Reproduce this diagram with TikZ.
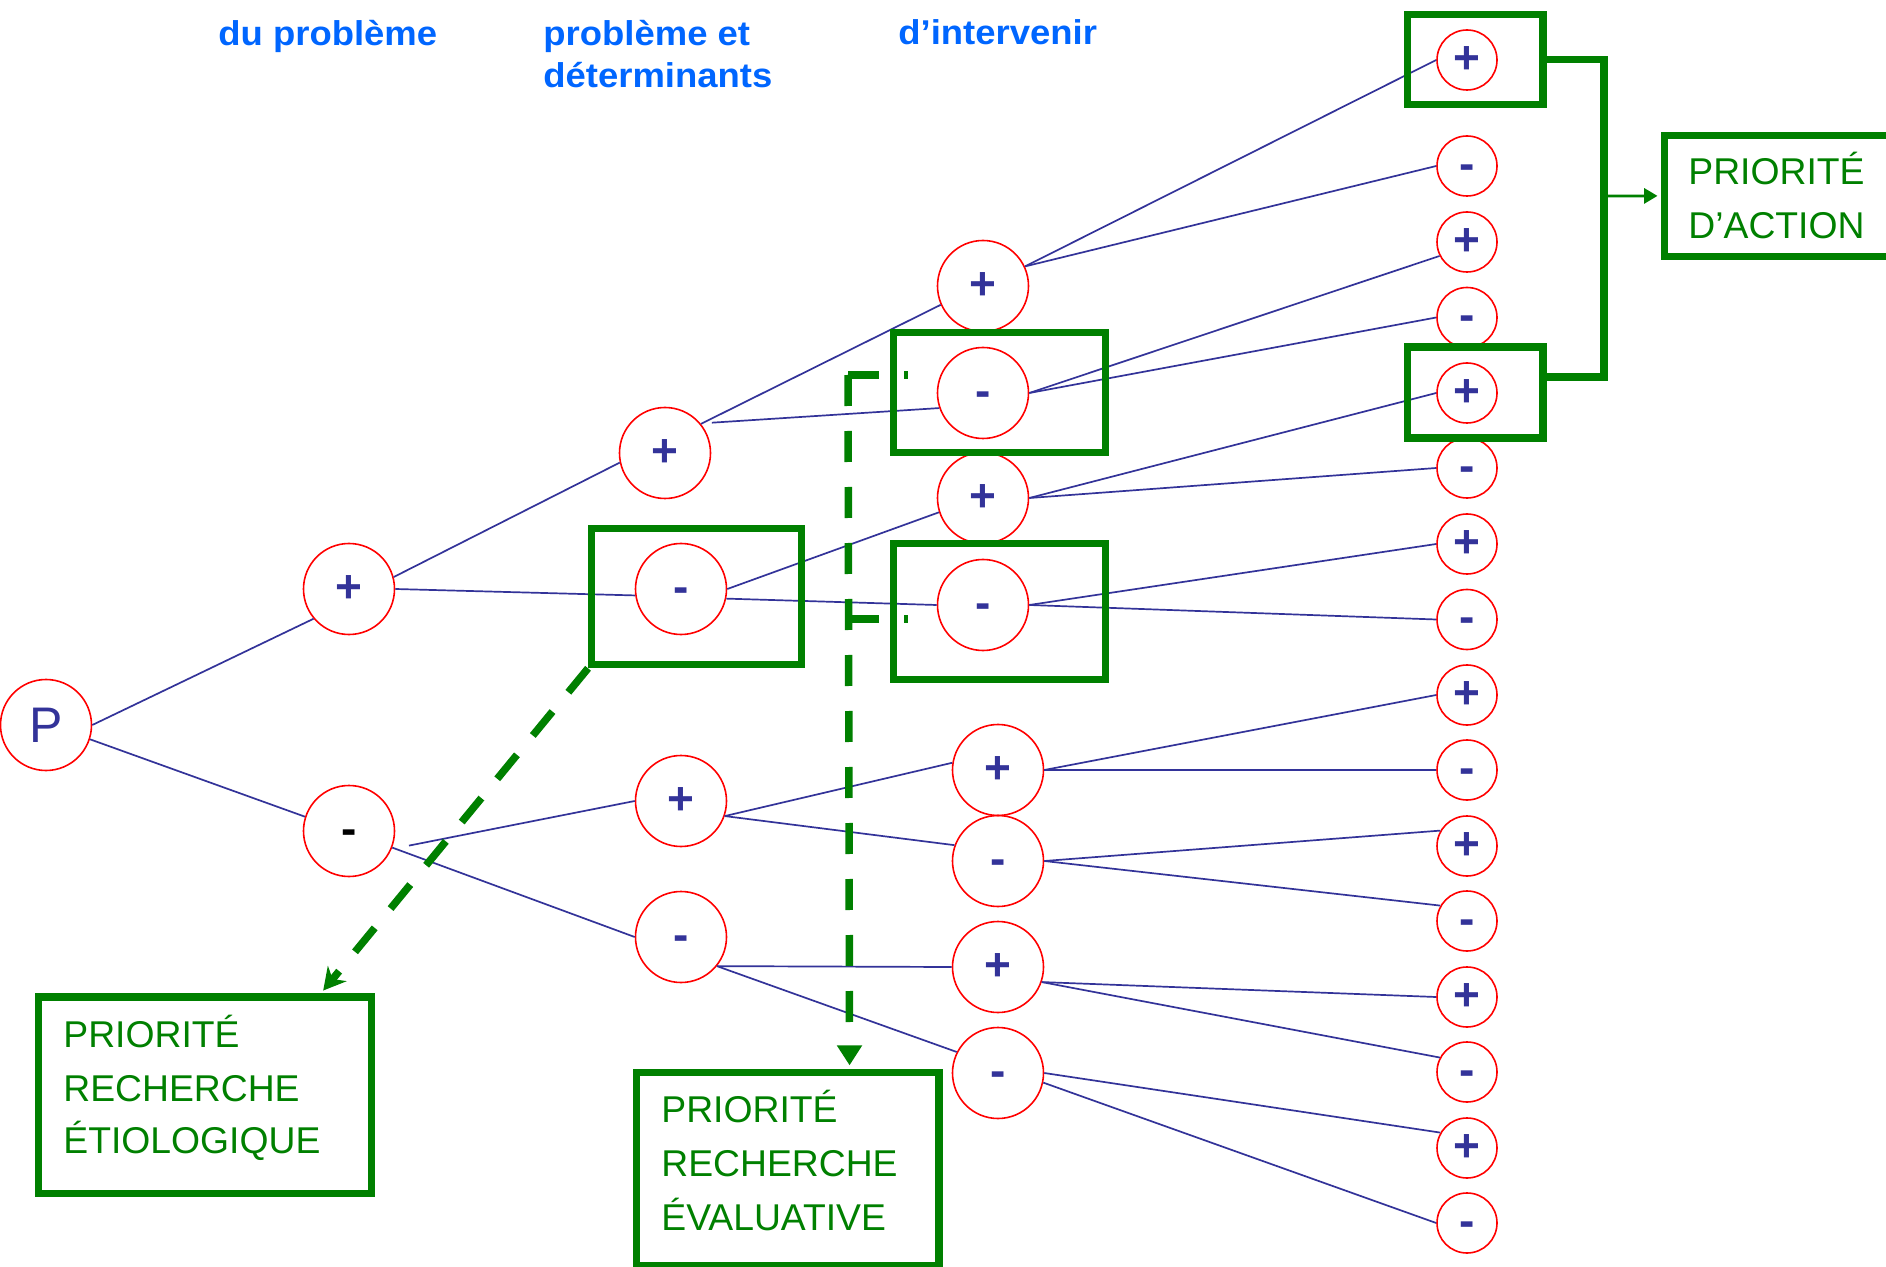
\documentclass[tikz,border=0pt]{standalone}
\usepackage{fontspec}
\setmainfont{Liberation Sans}
\newfontfamily\hdrfont[FakeStretch=1.06]{Liberation Sans}
\usetikzlibrary{arrows.meta,calc}
\definecolor{linkblue}{RGB}{51,51,153}
\definecolor{prigreen}{RGB}{0,128,0}
\definecolor{hdrblue}{RGB}{0,102,255}
\newcommand\minussign{\vphantom{+}-}
\begin{document}
\begin{tikzpicture}[x=0.5pt,y=-0.5pt,
  state/.style={circle,draw=red,line width=0.8pt,inner sep=0pt,text=linkblue,
    font=\fontsize{23}{23}\selectfont\bfseries},
  big/.style={state,minimum size=45.5pt},
  small/.style={state,minimum size=30pt},
  link/.style={draw=linkblue,line width=0.85pt},
  gframe/.style={rectangle,draw=prigreen,line width=3.65pt,inner sep=0pt},
  gbar/.style={draw=prigreen,line width=3.65pt},
  gdash/.style={draw=prigreen,line width=3.75pt,dash pattern=on 15.5pt off 12.5pt},
  lbl/.style={anchor=base west,inner sep=0pt,text=prigreen,
    font=\fontsize{18.65}{22}\selectfont},
  hdr/.style={anchor=base west,inner sep=0pt,text=hdrblue,
    font=\hdrfont\bfseries\fontsize{17.2}{20}\selectfont},
]
\useasboundingbox (0,0) rectangle (1886,1267);
\fill[white] (0,0) rectangle (1886,1267);
\clip (0,0) rectangle (1886,1267);

% column headings
\node[hdr] (h1) at (218,46) {du problème};
\node[hdr] (h2a) at (543,46) {problème et};
\node[hdr] (h2b) at (543,88) {déterminants};
\node[hdr] (h3) at (898,45) {d’intervenir};

% decision tree
\node[big,font=\fontsize{25}{25}\selectfont] (P) at (46,725) {P};
\node[big] (A) at (349,589) {+};
\node[big,text=black] (B) at (349,831) {\minussign};
\node[big] (C) at (665,453) {+};
\node[big] (D) at (681,589) {\minussign};
\node[big] (E) at (681,801) {+};
\node[big] (F) at (681,937) {\minussign};
\node[big] (G1) at (983,286) {+};
\node[big] (G2) at (983,393) {\minussign};
\node[big] (G3) at (983,498) {+};
\node[big] (G4) at (983,605) {\minussign};
\node[big] (H1) at (998,770) {+};
\node[big] (H2) at (998,861) {\minussign};
\node[big] (H3) at (998,967) {+};
\node[big] (H4) at (998,1073) {\minussign};

\node[small] (l1) at (1467,60) {+};
\node[small] (l2) at (1467,166) {\minussign};
\node[small] (l3) at (1467,242) {+};
\node[small] (l4) at (1467,317.5) {\minussign};
\node[small] (l5) at (1467,393) {+};
\node[small] (l6) at (1467,468) {\minussign};
\node[small] (l7) at (1467,544) {+};
\node[small] (l8) at (1467,619.5) {\minussign};
\node[small] (l9) at (1467,695) {+};
\node[small] (l10) at (1467,770) {\minussign};
\node[small] (l11) at (1467,846) {+};
\node[small] (l12) at (1467,921) {\minussign};
\node[small] (l13) at (1467,997) {+};
\node[small] (l14) at (1467,1072) {\minussign};
\node[small] (l15) at (1467,1148) {+};
\node[small] (l16) at (1467,1223) {\minussign};

% branches
\draw[link] (P.0) -- (A.220);
\draw[link] (P.342) -- (B.162);
\draw[link] (A.15) -- (C.192);
\draw[link] (A.0) -- (D.188);
\draw[link] ($(B)+(60,14.6)$) -- (E.180);
\draw[link] (B.339) -- (F.180);
\draw[link] (C.39) -- (G1.204);
\draw[link] ($(C)+(46.8,-30.3)$) -- (G2.199);
\draw[link] (D.0) -- (G3.198);
\draw[link] (D.348) -- (G4.180);
\draw[link] (E.341) -- (H1.171);
\draw[link] (E.341) -- (H2.160);
\draw[link] (F.321) -- (H3.180);
\draw[link] (F.321) -- (H4.153);
\draw[link] (G1.25) -- (l1.180);
\draw[link] (G1.25) -- (l2.180);
\draw[link] (G2.0) -- (l3.207);
\draw[link] (G2.0) -- (l4.180);
\draw[link] (G3.0) -- (l5.180);
\draw[link] (G3.0) -- (l6.180);
\draw[link] (G4.0) -- (l7.180);
\draw[link] (G4.0) -- (l8.180);
\draw[link] (H1.0) -- (l9.180);
\draw[link] (H1.0) -- (l10.180);
\draw[link] (H2.0) -- (l11.150);
\draw[link] (H2.0) -- (l12.150);
\draw[link] (H3.341) -- (l13.180);
\draw[link] (H3.341) -- (l14.152);
\draw[link] (H4.0) -- (l15.150);
\draw[link] (H4.348) -- (l16.180);

% highlighted branches
\node[gframe,minimum width=104.8pt,minimum height=67.95pt] (boxD) at (696.5,596.7) {};
\node[gframe,minimum width=105.95pt,minimum height=59.8pt] (boxG2) at (999.3,392.5) {};
\node[gframe,minimum width=105.95pt,minimum height=67.95pt] (boxG4) at (999.3,611.7) {};
\node[gframe,minimum width=67.65pt,minimum height=45.1pt] (boxL1) at (1475.4,59.5) {};
\node[gframe,minimum width=67.65pt,minimum height=45.5pt] (boxL5) at (1475.4,392.5) {};

% priority boxes
\node[gframe,minimum width=127.65pt,minimum height=60.45pt] (act) at (1792.4,195.9) {};
\node[gframe,minimum width=166.5pt,minimum height=98.3pt] (etio) at (205.2,1095.3) {};
\node[gframe,minimum width=151.3pt,minimum height=96.65pt] (eval) at (787.6,1169.3) {};

\node[lbl] (act1) at (1688,185) {PRIORITÉ};
\node[lbl] (act2) at (1688,238.5) {D’ACTION};
\node[lbl] (et1) at (63,1047.3) {PRIORITÉ};
\node[lbl] (et2) at (63,1101) {RECHERCHE};
\node[lbl] (et3) at (63,1153.3) {ÉTIOLOGIQUE};
\node[lbl] (ev1) at (661,1122.3) {PRIORITÉ};
\node[lbl] (ev2) at (661,1176) {RECHERCHE};
\node[lbl] (ev3) at (661,1230) {ÉVALUATIVE};

% bracket to the action priority
\coordinate (brk) at (1604,196);
\draw[gbar] (boxL1.east) -| (brk) |- ($(boxL5.east)+(0,-15.5)$);
\draw[draw=prigreen,line width=1.35pt,-{Triangle[length=6.65pt,width=7.5pt]},shorten >=1.8pt]
  (brk) -- (act.west);

% dashed links to the research priorities
\draw[gdash,-{Stealth[length=11pt,width=12pt]},shorten >=1.8pt]
  (boxD.south west) -- ($(etio.north west)!0.84!(etio.north east)$);
\coordinate (evs) at (848,375);
\coordinate (evm) at (848,619);
\draw[gdash] (evs) -- ++(60,0);
\draw[gdash] (evm) -- ++(60,0);
\draw[gdash,-{Triangle[length=10pt,width=12pt]},shorten >=1.8pt]
  (evs) -- ($(eval.north west)!0.7!(eval.north east)$);
\end{tikzpicture}
\end{document}
